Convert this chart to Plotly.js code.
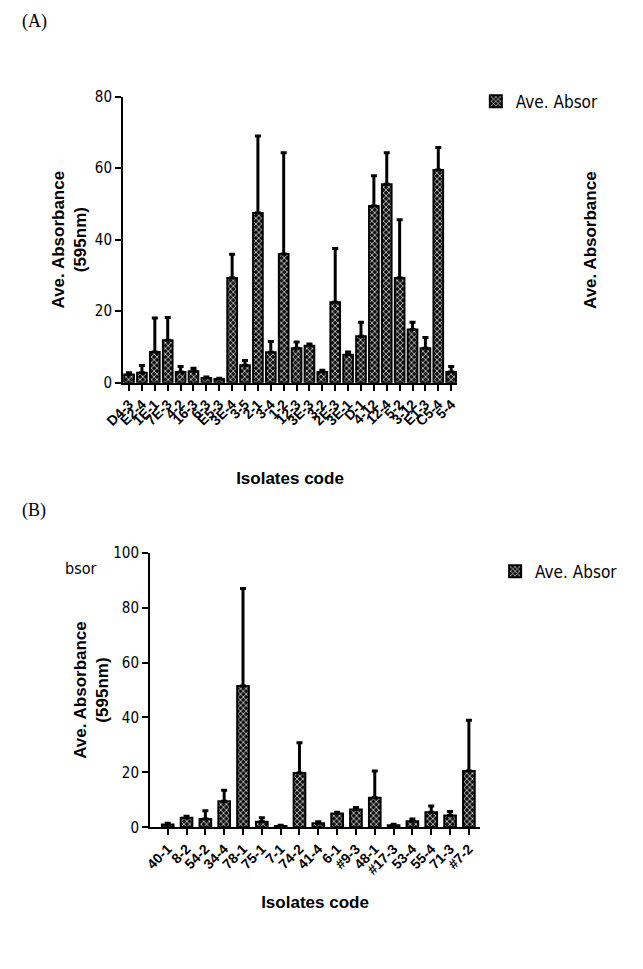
<!DOCTYPE html>
<html><head><meta charset="utf-8">
<script src="https://cdn.plot.ly/plotly-3.0.1.min.js"></script>
<style>body{margin:0;background:#fff}#c{width:643px;height:969px}</style>
</head><body><div id="c"></div>
<script>
const catsA = ["D4-3","E2-4","1E-1","7E-3","4-2","16-3","6-3","E5-3","3E-4","3-5","2-1","3-4","1-2","12-3","3E-3","3-2","2E-3","3E-1","D-1","4-12","12-4","5-2","3-12","E1-3","C5-4","5-4"];
const valsA = [2.3,2.8,8.6,11.9,3.0,3.2,1.3,1.0,29.3,4.9,47.5,8.5,36.0,9.6,10.3,3.0,22.5,7.8,13.0,49.4,55.5,29.3,14.9,9.6,59.5,3.0];
const errA  = [0.5,2.0,9.5,6.3,1.5,0.8,0.3,0.2,6.6,1.3,21.5,3.0,28.3,1.8,0.5,0.5,15.0,0.8,3.9,8.5,8.8,16.3,2.0,3.0,6.3,1.5];

const catsB = ["40-1","8-2","54-2","34-4","78-1","75-1","7-1","74-2","41-4","6-1","#9-3","48-1","#17-3","53-4","55-4","71-3","#7-2"];
const valsB = [1.0,3.5,3.0,9.5,51.5,2.0,0.5,19.8,1.5,5.0,6.5,10.8,0.8,2.2,5.5,4.3,20.5];
const errB  = [0.5,0.5,3.0,4.0,35.5,1.5,0.3,11.0,0.5,0.5,0.7,9.7,0.3,0.8,2.3,1.5,18.5];

const legendName = "Ave. Absor";
const yTitle = "Ave. Absorbance<br>(595nm)";
const xTitle = "Isolates code";

const narrow = "DejaVu Sans Condensed, Liberation Sans Narrow, Arial Narrow, Arial, sans-serif";
const boldF = "Arial, Liberation Sans, sans-serif";

function barTrace(cats, vals, errs, xa, ya, leg, w) {
  return {
    type: "bar", x: cats, y: vals, name: legendName, xaxis: xa, yaxis: ya, legend: leg,
    width: w,
    marker: {color: "#111", line: {color: "#000", width: 2},
      pattern: {shape: "x", fgcolor: "#fff", bgcolor: "#111", size: 4, solidity: 0.3, fillmode: "replace"}},
    error_y: {type: "data", symmetric: false, array: errs, arrayminus: errs.map(() => 0),
      color: "#000", thickness: 3, width: 3}
  };
}

const axisCommon = {
  showgrid: false, zeroline: false, showline: true, linecolor: "#000", linewidth: 2,
  ticks: "outside", ticklen: 6, tickwidth: 2, tickcolor: "#000"
};

const data = [
  barTrace(catsA, valsA, errA, "x", "y", "legend", 0.75),
  barTrace(catsB, valsB, errB, "x2", "y2", "legend2", 0.62)
];

const layout = {
  width: 643, height: 969, paper_bgcolor: "#fff", plot_bgcolor: "#fff",
  margin: {l: 0, r: 0, t: 0, b: 0}, showlegend: true, bargap: 0.2,
  font: {family: boldF, color: "#000"},
  xaxis: Object.assign({}, axisCommon, {domain: [0.1913, 0.7107], anchor: "y", type: "category",
    range: [-0.47, 25.45], tickangle: -45, tickmode: "array", tickvals: catsA, ticktext: catsA,
    tickfont: {family: boldF, size: 14, weight: "bold"},
    title: {text: xTitle, font: {family: boldF, size: 17, weight: "bold"}, standoff: 44}}),
  yaxis: Object.assign({}, axisCommon, {domain: [0.6051, 0.9002], anchor: "x", range: [0, 80],
    tickvals: [0,20,40,60,80], tickfont: {family: narrow, size: 15},
    title: {text: yTitle, font: {family: boldF, size: 17, weight: "bold"}, standoff: 4}}),
  xaxis2: Object.assign({}, axisCommon, {domain: [0.2333, 0.7465], anchor: "y2", type: "category",
    range: [-0.94, 16.59], tickangle: -45, tickmode: "array", tickvals: catsB, ticktext: catsB,
    tickfont: {family: boldF, size: 14, weight: "bold"},
    title: {text: xTitle, font: {family: boldF, size: 17, weight: "bold"}, standoff: 20}}),
  yaxis2: Object.assign({}, axisCommon, {domain: [0.1462, 0.4296], anchor: "x2", range: [0, 100],
    tickvals: [0,20,40,60,80,100], tickfont: {family: narrow, size: 15},
    title: {text: yTitle, font: {family: boldF, size: 17, weight: "bold"}, standoff: 0}}),
  legend: {x: 0.74, y: 0.895, xanchor: "left", yanchor: "middle", bgcolor: "rgba(0,0,0,0)",
    font: {family: narrow, size: 17}, itemwidth: 30},
  legend2: {x: 0.77, y: 0.41, xanchor: "left", yanchor: "middle", bgcolor: "rgba(0,0,0,0)",
    font: {family: narrow, size: 17}, itemwidth: 30},
  annotations: [
    {xref: "paper", yref: "paper", x: 20/643, y: 1 - 22/969, xanchor: "left", yanchor: "middle",
      text: "(A)", showarrow: false, font: {family: "Liberation Serif, DejaVu Serif, serif", size: 18}},
    {xref: "paper", yref: "paper", x: 20/643, y: 1 - 510/969, xanchor: "left", yanchor: "middle",
      text: "(B)", showarrow: false, font: {family: "Liberation Serif, DejaVu Serif, serif", size: 18}},
    {xref: "paper", yref: "paper", x: 591/643, y: 1 - 240/969, xanchor: "center", yanchor: "middle",
      text: "Ave. Absorbance", textangle: -90, showarrow: false,
      font: {family: boldF, size: 17, weight: "bold"}},
    {xref: "paper", yref: "paper", x: 80/643, y: 1 - 568/969, xanchor: "center", yanchor: "middle",
      text: "bsor", showarrow: false, font: {family: narrow, size: 16}}
  ]
};

Plotly.newPlot("c", data, layout, {staticPlot: true, displayModeBar: false});
</script></body></html>
